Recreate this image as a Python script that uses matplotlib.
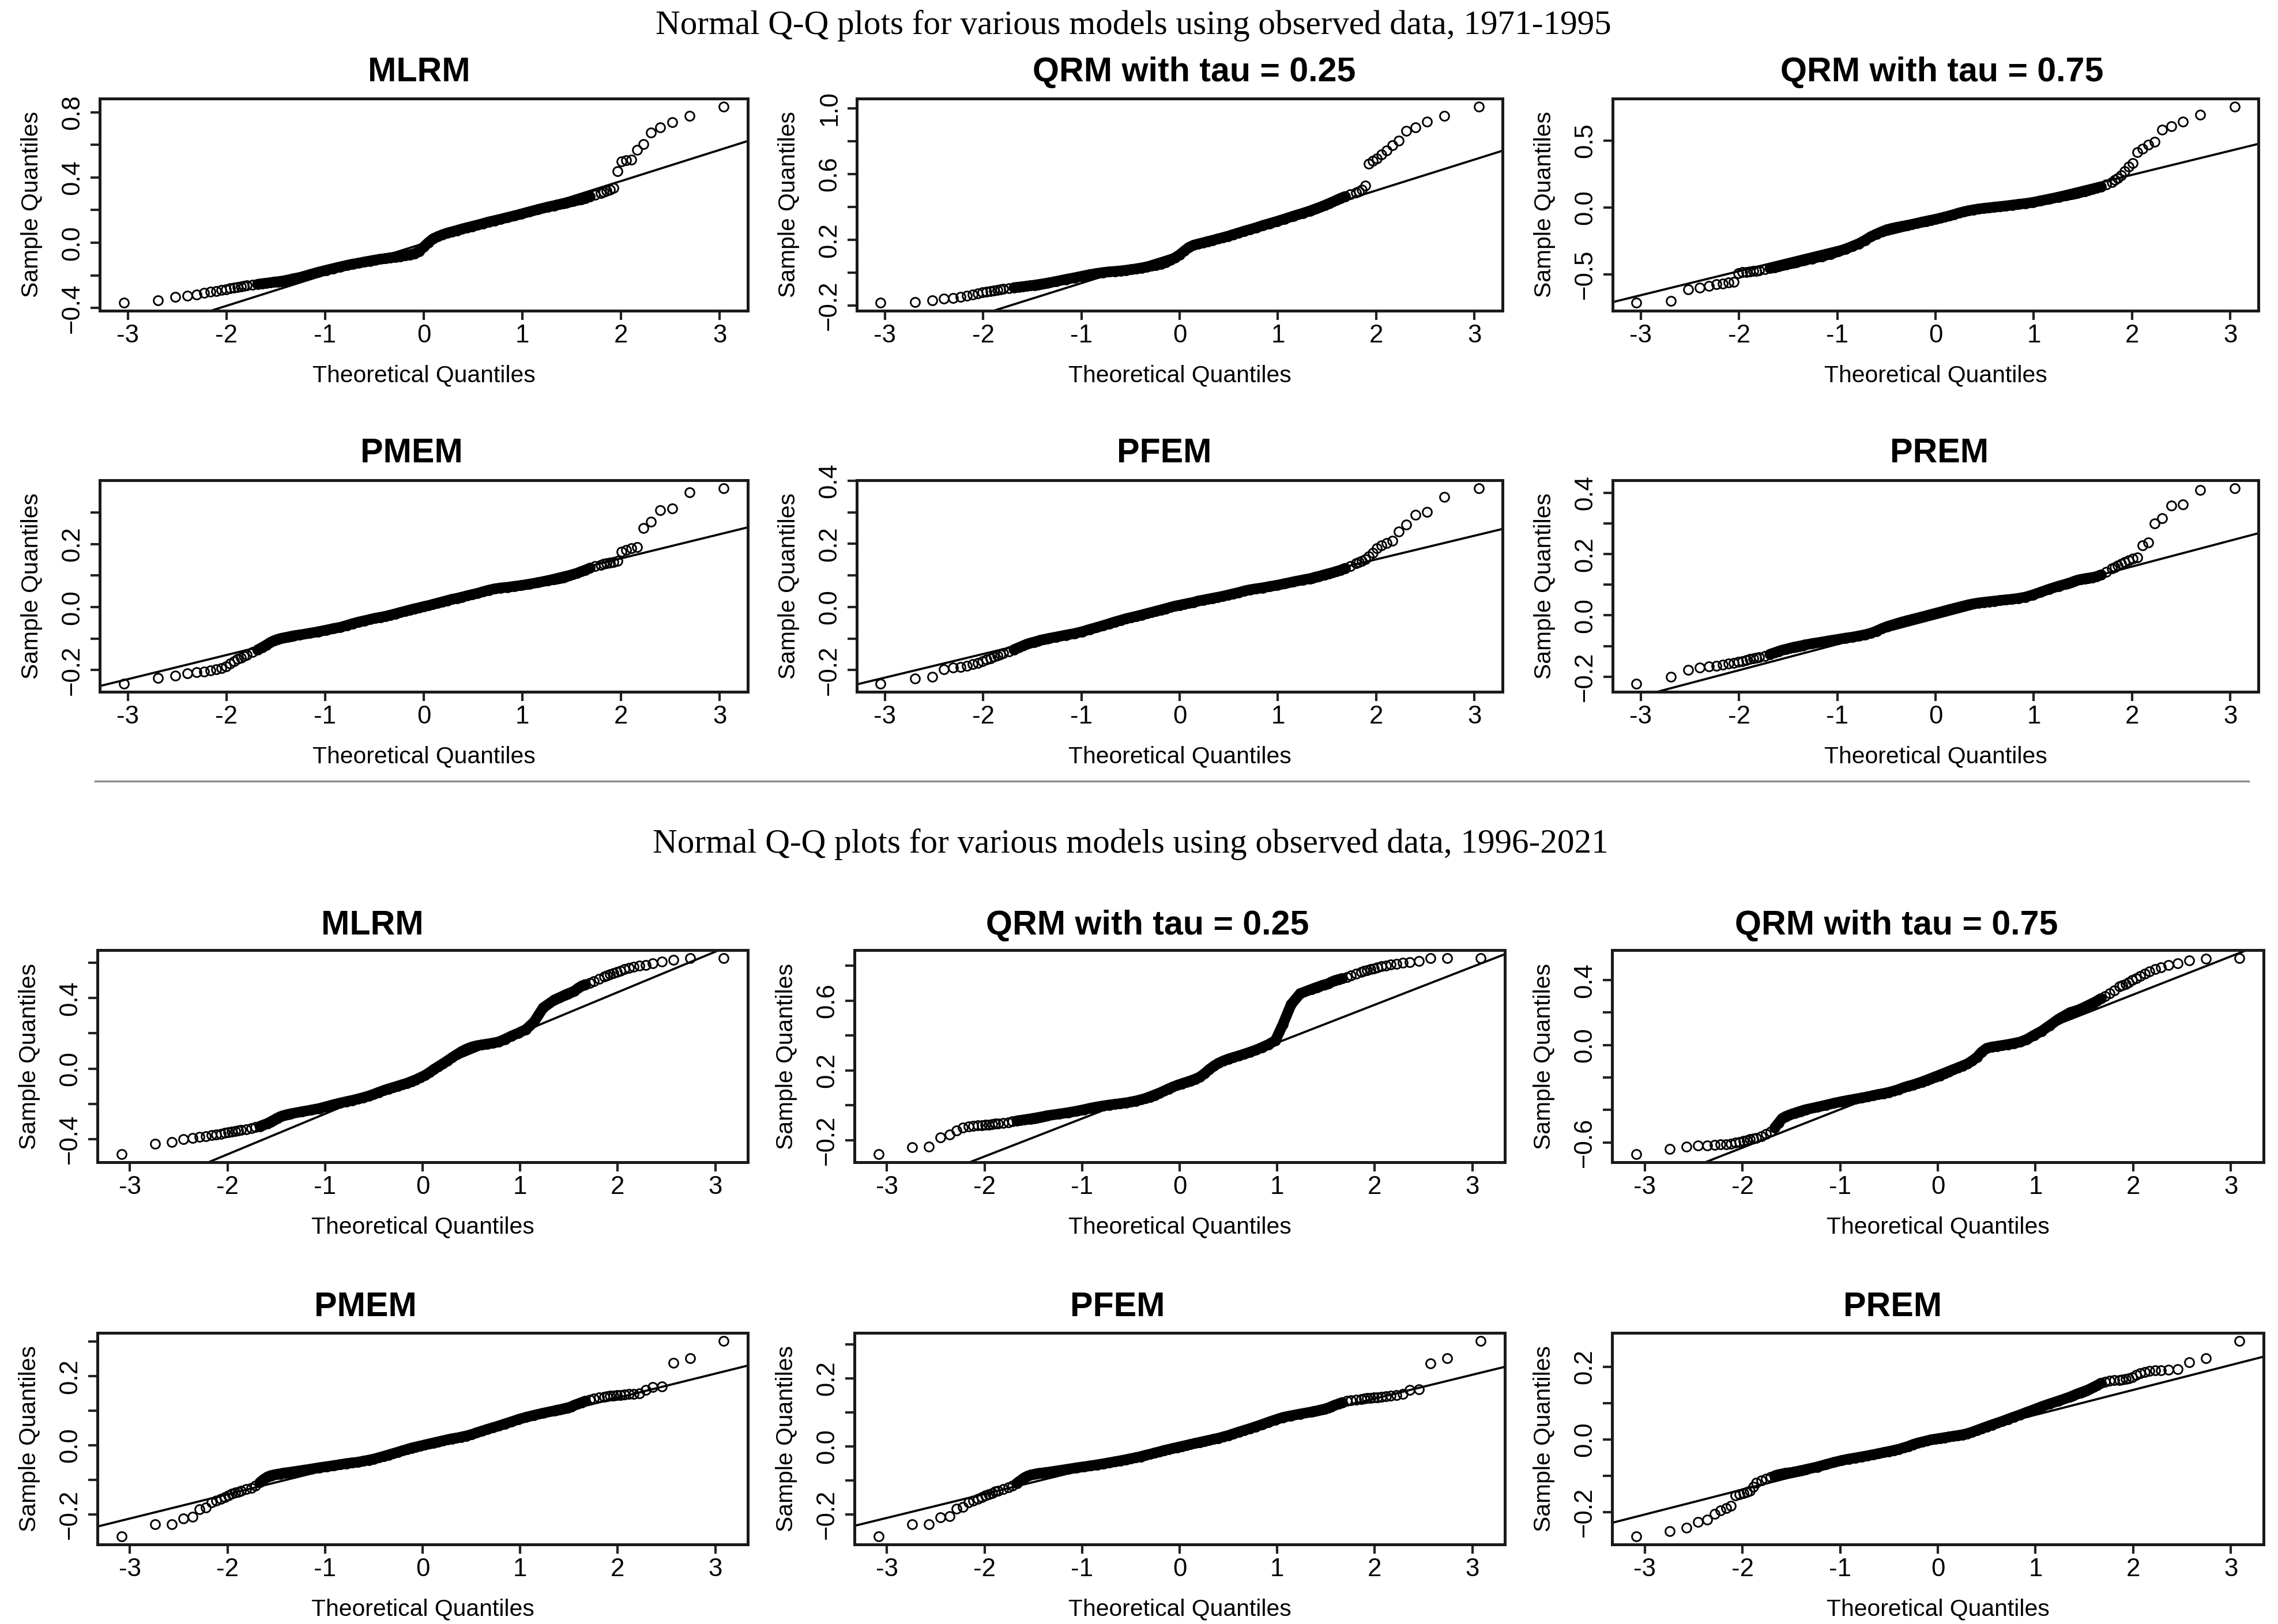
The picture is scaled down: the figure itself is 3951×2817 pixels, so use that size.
import matplotlib
matplotlib.use("Agg")
import matplotlib.pyplot as plt
from matplotlib.lines import Line2D
import numpy as np
from statistics import NormalDist

plt.rcParams["font.family"] = ["Liberation Sans", "DejaVu Sans"]

# ---------------- data ----------------
models = ["MLRM", "QRM with tau = 0.25", "QRM with tau = 0.75", "PMEM", "PFEM", "PREM"]
period_titles = ["Normal Q-Q plots for various models using observed data, 1971-1995",
                 "Normal Q-Q plots for various models using observed data, 1996-2021"]
n_obs = [425, 494]

# ranks (of the sorted residuals) at which the sample quantiles were read
ranks_7195 = [*range(1, 17), *range(18, 41, 2), *range(45, 382, 8), *range(386, 409, 2), *range(410, 426)]
ranks_9621 = [*range(1, 17), *range(18, 45, 2), *range(54, 442, 9), *range(451, 478, 2), *range(479, 495)]

# sample quantiles 1971-1995
mlrm_7195 = [-0.368, -0.354, -0.332, -0.325, -0.316, -0.307, -0.300, -0.295, -0.290, -0.286, -0.280, -0.276, -0.272, -0.268, -0.265, -0.262,
             -0.257, -0.254, -0.250, -0.247, -0.244, -0.240, -0.238, -0.235, -0.232, -0.228, -0.224, -0.220,
             -0.212, -0.195, -0.180, -0.168, -0.157, -0.147, -0.138, -0.130, -0.124, -0.117, -0.111, -0.105, -0.100, -0.096, -0.091,
             -0.087, -0.083, -0.078, -0.073, -0.066, -0.052, -0.025, 0.002, 0.025, 0.038, 0.050, 0.060, 0.068, 0.076, 0.085,
             0.093, 0.101, 0.109, 0.118, 0.128, 0.136, 0.145, 0.155, 0.165, 0.177, 0.190, 0.204, 0.219,
             0.228, 0.232, 0.236, 0.241, 0.245, 0.250, 0.255, 0.261, 0.267, 0.274, 0.283, 0.295,
             0.305, 0.312, 0.318, 0.325, 0.335, 0.440, 0.500, 0.505, 0.510, 0.570, 0.605, 0.675, 0.705, 0.738, 0.778, 0.835]
qrm25_7195 = [-0.183, -0.179, -0.166, -0.158, -0.153, -0.145, -0.140, -0.133, -0.126, -0.120, -0.116, -0.112, -0.108, -0.104, -0.101, -0.098,
              -0.094, -0.090, -0.087, -0.084, -0.081, -0.078, -0.075, -0.072, -0.069, -0.066, -0.063, -0.060,
              -0.052, -0.040, -0.030, -0.020, -0.011, -0.004, 0.002, 0.006, 0.009, 0.012, 0.016, 0.020, 0.025, 0.030, 0.036,
              0.042, 0.048, 0.055, 0.065, 0.077, 0.092, 0.110, 0.133, 0.155, 0.168, 0.176, 0.183, 0.191, 0.198, 0.206,
              0.214, 0.223, 0.233, 0.243, 0.254, 0.264, 0.275, 0.288, 0.300, 0.313, 0.328, 0.345, 0.363,
              0.376, 0.382, 0.389, 0.396, 0.403, 0.412, 0.421, 0.431, 0.442, 0.454, 0.465, 0.477,
              0.488, 0.495, 0.505, 0.530, 0.665, 0.680, 0.695, 0.720, 0.745, 0.775, 0.805, 0.865, 0.885, 0.920, 0.955, 1.012]
qrm75_7195 = [-0.713, -0.700, -0.614, -0.600, -0.585, -0.575, -0.568, -0.562, -0.555, -0.490, -0.485, -0.481, -0.478, -0.476, -0.473, -0.470,
              -0.462, -0.455, -0.447, -0.440, -0.433, -0.426, -0.420, -0.414, -0.408, -0.402, -0.397, -0.392,
              -0.382, -0.365, -0.348, -0.330, -0.310, -0.290, -0.270, -0.245, -0.218, -0.198, -0.180, -0.165, -0.155, -0.147, -0.140,
              -0.133, -0.126, -0.118, -0.110, -0.102, -0.095, -0.088, -0.080, -0.071, -0.062, -0.052, -0.041, -0.032, -0.024, -0.017,
              -0.011, -0.006, -0.002, 0.003, 0.007, 0.012, 0.018, 0.024, 0.030, 0.038, 0.050, 0.063, 0.078,
              0.088, 0.093, 0.098, 0.103, 0.108, 0.114, 0.120, 0.128, 0.136, 0.145, 0.155, 0.170,
              0.190, 0.205, 0.220, 0.240, 0.270, 0.305, 0.330, 0.415, 0.440, 0.470, 0.490, 0.580, 0.605, 0.640, 0.695, 0.755]
pmem_7195 = [-0.244, -0.225, -0.218, -0.210, -0.207, -0.204, -0.201, -0.197, -0.193, -0.188, -0.180, -0.172, -0.165, -0.160, -0.155, -0.151,
             -0.143, -0.136, -0.128, -0.120, -0.112, -0.106, -0.102, -0.099, -0.097, -0.095, -0.093, -0.091,
             -0.088, -0.083, -0.078, -0.073, -0.068, -0.064, -0.058, -0.052, -0.047, -0.043, -0.039, -0.035, -0.032, -0.029, -0.025,
             -0.021, -0.017, -0.013, -0.009, -0.005, -0.002, 0.002, 0.005, 0.009, 0.013, 0.017, 0.021, 0.025, 0.028, 0.032,
             0.036, 0.040, 0.044, 0.049, 0.054, 0.058, 0.061, 0.063, 0.066, 0.069, 0.073, 0.078, 0.084,
             0.088, 0.090, 0.092, 0.094, 0.097, 0.100, 0.104, 0.108, 0.113, 0.118, 0.124, 0.130,
             0.134, 0.137, 0.139, 0.141, 0.143, 0.146, 0.176, 0.182, 0.186, 0.190, 0.251, 0.272, 0.308, 0.314, 0.365, 0.378]
pfem_7195 = [-0.244, -0.227, -0.221, -0.197, -0.193, -0.190, -0.187, -0.181, -0.177, -0.172, -0.167, -0.163, -0.158, -0.154, -0.150, -0.147,
             -0.141, -0.135, -0.129, -0.123, -0.118, -0.114, -0.111, -0.108, -0.105, -0.103, -0.101, -0.099,
             -0.095, -0.089, -0.084, -0.078, -0.071, -0.065, -0.059, -0.053, -0.047, -0.042, -0.037, -0.033, -0.029, -0.025, -0.021,
             -0.017, -0.013, -0.009, -0.005, -0.001, 0.003, 0.006, 0.009, 0.012, 0.015, 0.019, 0.022, 0.025, 0.028, 0.031,
             0.034, 0.038, 0.042, 0.046, 0.051, 0.055, 0.058, 0.061, 0.065, 0.069, 0.074, 0.080, 0.086,
             0.090, 0.092, 0.095, 0.097, 0.100, 0.103, 0.106, 0.109, 0.113, 0.117, 0.123, 0.130,
             0.139, 0.142, 0.146, 0.152, 0.160, 0.172, 0.187, 0.196, 0.203, 0.210, 0.240, 0.261, 0.292, 0.302, 0.349, 0.377]
prem_7195 = [-0.224, -0.201, -0.178, -0.171, -0.167, -0.164, -0.161, -0.158, -0.155, -0.152, -0.149, -0.146, -0.143, -0.141, -0.139, -0.136,
             -0.132, -0.127, -0.122, -0.117, -0.113, -0.110, -0.107, -0.104, -0.102, -0.100, -0.098, -0.096,
             -0.092, -0.087, -0.082, -0.078, -0.074, -0.071, -0.067, -0.063, -0.058, -0.051, -0.043, -0.036, -0.031, -0.026, -0.021,
             -0.017, -0.013, -0.009, -0.005, -0.001, 0.003, 0.007, 0.011, 0.015, 0.019, 0.023, 0.027, 0.031, 0.035, 0.038,
             0.041, 0.043, 0.045, 0.047, 0.049, 0.051, 0.053, 0.056, 0.060, 0.067, 0.076, 0.086, 0.096,
             0.102, 0.105, 0.108, 0.112, 0.115, 0.118, 0.120, 0.122, 0.124, 0.127, 0.133, 0.142,
             0.153, 0.157, 0.162, 0.168, 0.175, 0.180, 0.185, 0.190, 0.228, 0.238, 0.300, 0.318, 0.358, 0.363, 0.409, 0.416]

# sample quantiles 1996-2021
mlrm_9621 = [-0.485, -0.424, -0.414, -0.399, -0.392, -0.386, -0.381, -0.377, -0.372, -0.368, -0.364, -0.360, -0.357, -0.353, -0.350, -0.347,
             -0.342, -0.337, -0.332, -0.326, -0.318, -0.310, -0.300, -0.290, -0.280, -0.272, -0.266, -0.262, -0.258, -0.255,
             -0.243, -0.234, -0.225, -0.214, -0.203, -0.194, -0.186, -0.179, -0.171, -0.163, -0.154, -0.144, -0.133, -0.123, -0.114,
             -0.106, -0.098, -0.090, -0.082, -0.072, -0.062, -0.050, -0.038, -0.022, -0.004, 0.012, 0.028, 0.045, 0.063, 0.080,
             0.097, 0.111, 0.122, 0.130, 0.135, 0.140, 0.145, 0.152, 0.167, 0.185, 0.202, 0.222, 0.265, 0.345,
             0.390, 0.396, 0.403, 0.410, 0.418, 0.425, 0.432, 0.440, 0.455, 0.468, 0.477, 0.485, 0.495, 0.508,
             0.522, 0.527, 0.533, 0.540, 0.547, 0.555, 0.563, 0.571, 0.577, 0.582, 0.588, 0.597, 0.607, 0.617, 0.625, 0.627]
qrm25_9621 = [-0.280, -0.238, -0.236, -0.182, -0.165, -0.145, -0.128, -0.121, -0.117, -0.115, -0.113, -0.111, -0.109, -0.107, -0.105, -0.103,
              -0.100, -0.096, -0.092, -0.088, -0.085, -0.082, -0.079, -0.076, -0.073, -0.070, -0.067, -0.064, -0.061, -0.058,
              -0.049, -0.041, -0.033, -0.024, -0.015, -0.008, -0.002, 0.003, 0.007, 0.011, 0.015, 0.020, 0.026, 0.033, 0.040,
              0.048, 0.058, 0.070, 0.083, 0.095, 0.106, 0.116, 0.125, 0.133, 0.141, 0.150, 0.163, 0.182, 0.205, 0.225,
              0.242, 0.255, 0.266, 0.275, 0.284, 0.294, 0.305, 0.317, 0.332, 0.349, 0.372, 0.465, 0.578, 0.640,
              0.665, 0.670, 0.676, 0.681, 0.687, 0.692, 0.697, 0.707, 0.715, 0.721, 0.727, 0.735, 0.745, 0.755,
              0.765, 0.770, 0.775, 0.780, 0.785, 0.790, 0.795, 0.800, 0.805, 0.810, 0.815, 0.820, 0.825, 0.842, 0.843, 0.844]
qrm75_9621 = [-0.674, -0.639, -0.625, -0.620, -0.618, -0.616, -0.614, -0.612, -0.608, -0.603, -0.598, -0.592, -0.587, -0.582, -0.577, -0.572,
              -0.562, -0.548, -0.535, -0.510, -0.480, -0.452, -0.440, -0.432, -0.425, -0.419, -0.413, -0.408, -0.403, -0.398,
              -0.383, -0.370, -0.358, -0.348, -0.340, -0.333, -0.326, -0.319, -0.311, -0.304, -0.298, -0.291, -0.283, -0.273, -0.262,
              -0.253, -0.245, -0.236, -0.227, -0.218, -0.208, -0.198, -0.188, -0.176, -0.163, -0.151, -0.140, -0.128, -0.116, -0.098,
              -0.076, -0.043, -0.020, -0.012, -0.007, -0.002, 0.004, 0.011, 0.019, 0.035, 0.060, 0.085, 0.120, 0.160,
              0.200, 0.205, 0.210, 0.215, 0.223, 0.231, 0.240, 0.250, 0.260, 0.272, 0.287, 0.302, 0.318, 0.338,
              0.360, 0.368, 0.376, 0.388, 0.400, 0.413, 0.427, 0.440, 0.455, 0.468, 0.480, 0.492, 0.505, 0.523, 0.533, 0.537]
pmem_9621 = [-0.265, -0.230, -0.229, -0.212, -0.208, -0.185, -0.181, -0.165, -0.160, -0.155, -0.150, -0.145, -0.141, -0.138, -0.135, -0.132,
             -0.128, -0.124, -0.118, -0.108, -0.099, -0.092, -0.088, -0.086, -0.084, -0.083, -0.081, -0.080, -0.079, -0.078,
             -0.073, -0.069, -0.065, -0.062, -0.059, -0.056, -0.053, -0.051, -0.049, -0.046, -0.043, -0.040, -0.036, -0.032, -0.028,
             -0.024, -0.020, -0.016, -0.012, -0.008, -0.005, -0.002, 0.001, 0.004, 0.007, 0.010, 0.013, 0.016, 0.019, 0.021,
             0.024, 0.027, 0.031, 0.036, 0.041, 0.046, 0.051, 0.056, 0.062, 0.068, 0.075, 0.081, 0.087, 0.093,
             0.100, 0.102, 0.103, 0.105, 0.107, 0.109, 0.112, 0.116, 0.120, 0.124, 0.128, 0.132, 0.135, 0.138,
             0.141, 0.142, 0.143, 0.144, 0.145, 0.146, 0.147, 0.148, 0.149, 0.151, 0.160, 0.168, 0.170, 0.238, 0.252, 0.303]
pfem_9621 = [-0.265, -0.229, -0.228, -0.208, -0.205, -0.183, -0.178, -0.165, -0.160, -0.155, -0.150, -0.145, -0.141, -0.137, -0.133, -0.130,
             -0.126, -0.121, -0.116, -0.108, -0.100, -0.092, -0.087, -0.084, -0.082, -0.080, -0.079, -0.078, -0.077, -0.076,
             -0.071, -0.067, -0.063, -0.060, -0.057, -0.054, -0.051, -0.048, -0.045, -0.042, -0.039, -0.036, -0.033, -0.030, -0.026,
             -0.023, -0.019, -0.016, -0.012, -0.009, -0.006, -0.003, 0.000, 0.003, 0.006, 0.009, 0.012, 0.015, 0.018, 0.021,
             0.024, 0.028, 0.032, 0.037, 0.042, 0.047, 0.052, 0.058, 0.064, 0.071, 0.078, 0.085, 0.090, 0.095,
             0.101, 0.103, 0.104, 0.106, 0.108, 0.110, 0.113, 0.117, 0.121, 0.125, 0.129, 0.133, 0.135, 0.137,
             0.139, 0.140, 0.141, 0.142, 0.143, 0.144, 0.145, 0.147, 0.149, 0.151, 0.153, 0.165, 0.168, 0.243, 0.258, 0.310]
prem_9621 = [-0.268, -0.253, -0.244, -0.228, -0.221, -0.206, -0.196, -0.190, -0.183, -0.155, -0.151, -0.148, -0.145, -0.142, -0.130, -0.120,
             -0.113, -0.108, -0.104, -0.100, -0.097, -0.095, -0.093, -0.092, -0.091, -0.089, -0.088, -0.086, -0.085, -0.083,
             -0.076, -0.069, -0.063, -0.058, -0.054, -0.051, -0.048, -0.045, -0.042, -0.039, -0.036, -0.033, -0.030, -0.027, -0.023,
             -0.019, -0.014, -0.010, -0.007, -0.004, -0.001, 0.001, 0.003, 0.005, 0.007, 0.009, 0.011, 0.013, 0.016, 0.020,
             0.025, 0.030, 0.035, 0.040, 0.045, 0.050, 0.056, 0.062, 0.068, 0.075, 0.082, 0.090, 0.098, 0.106,
             0.117, 0.120, 0.123, 0.126, 0.129, 0.132, 0.135, 0.139, 0.144, 0.149, 0.155, 0.159, 0.161, 0.163,
             0.164, 0.165, 0.166, 0.168, 0.172, 0.178, 0.182, 0.186, 0.189, 0.190, 0.191, 0.192, 0.194, 0.212, 0.224, 0.272]

# qq reference lines (intercept, slope)
qqline_7195 = [(-0.004, 0.191), (0.125, 0.188), (-0.116, 0.180), (0.0013, 0.0767), (0.001, 0.075), (-0.0098, 0.0847)]
qqline_9621 = [(-0.026, 0.2294), (0.142, 0.217), (-0.161, 0.236), (-0.0025, 0.070), (0.0, 0.070), (-0.001, 0.0687)]

x_ticks = [-3, -2, -1, 0, 1, 2, 3]
x_tick_labels = ["-3", "-2", "-1", "0", "1", "2", "3"]
y_ticks_7195 = [[-0.4, -0.2, 0.0, 0.2, 0.4, 0.6, 0.8], [-0.2, 0.0, 0.2, 0.4, 0.6, 0.8, 1.0], [-0.5, 0.0, 0.5],
                [-0.2, -0.1, 0.0, 0.1, 0.2, 0.3], [-0.2, -0.1, 0.0, 0.1, 0.2, 0.3, 0.4], [-0.2, -0.1, 0.0, 0.1, 0.2, 0.3, 0.4]]
y_labels_7195 = [["\u22120.4", "", "0.0", "", "0.4", "", "0.8"], ["\u22120.2", "", "0.2", "", "0.6", "", "1.0"],
                 ["\u22120.5", "0.0", "0.5"], ["\u22120.2", "", "0.0", "", "0.2", ""],
                 ["\u22120.2", "", "0.0", "", "0.2", "", "0.4"], ["\u22120.2", "", "0.0", "", "0.2", "", "0.4"]]
y_ticks_9621 = [[-0.4, -0.2, 0.0, 0.2, 0.4, 0.6], [-0.2, 0.0, 0.2, 0.4, 0.6, 0.8], [-0.6, -0.4, -0.2, 0.0, 0.2, 0.4],
                [-0.2, -0.1, 0.0, 0.1, 0.2, 0.3], [-0.2, -0.1, 0.0, 0.1, 0.2, 0.3], [-0.2, -0.1, 0.0, 0.1, 0.2]]
y_labels_9621 = [["\u22120.4", "", "0.0", "", "0.4", ""], ["\u22120.2", "", "0.2", "", "0.6", ""],
                 ["\u22120.6", "", "", "0.0", "", "0.4"], ["\u22120.2", "", "0.0", "", "0.2", ""],
                 ["\u22120.2", "", "0.0", "", "0.2", ""], ["\u22120.2", "", "0.0", "", "0.2"]]

ranks = [ranks_7195, ranks_9621]
samples = [[mlrm_7195, qrm25_7195, qrm75_7195, pmem_7195, pfem_7195, prem_7195],
           [mlrm_9621, qrm25_9621, qrm75_9621, pmem_9621, pfem_9621, prem_9621]]
qqlines = [qqline_7195, qqline_9621]
y_ticks = [y_ticks_7195, y_ticks_9621]
y_labels = [y_labels_7195, y_labels_9621]

# ---------------- layout (pixels of the 3951x2817 canvas) ----------------
W, H = 3951, 2817
row_tb = [(171, 539), (833, 1200), (1648, 2016), (2312, 2679)]
cols = [[(173, 1297), (1486, 2606), (2797, 3917)],
        [(169, 1297), (1482, 2610), (2796, 3926)]]
title_x = [[727, 2071, 3368], [714, 2019, 3364], [646, 1990, 3289], [634, 1938, 3283]]
title_base = [141, 802, 1621, 2283]
main_pos = [(1966, 44), (1961, 1465)]

fig = plt.figure(figsize=(W / 300, H / 300), dpi=300)
fig.patch.set_facecolor("white")

nd = NormalDist()
for p in range(2):
    n = n_obs[p]
    theo = np.array([nd.inv_cdf((r - 0.5) / n) for r in ranks[p]])
    for m in range(6):
        row = 2 * p + m // 3
        col = m % 3
        t, b = row_tb[row]
        l, r = cols[p][col]
        ax = fig.add_axes([l / W, 1 - b / H, (r - l) / W, (b - t) / H])
        y = np.array(samples[p][m])
        assert len(y) == len(theo), (p, m, len(y), len(theo))

        # heavily overplotted middle part
        dense = np.abs(theo) < 1.7
        ax.plot(theo[dense], y[dense], color="black", lw=4.4, zorder=2,
                solid_capstyle="round", solid_joinstyle="round")
        ax.plot(theo, y, linestyle="none", marker="o", ms=3.8, mfc="none",
                mec="black", mew=0.7, zorder=3)
        icpt, slope = qqlines[p][m]
        ax.axline((0, icpt), slope=slope, color="black", lw=0.9, zorder=1)
        ax.margins(x=0.04, y=0.04)

        ax.set_xticks(x_ticks, x_tick_labels)
        ax.set_yticks(y_ticks[p][m], y_labels[p][m])
        ax.tick_params(direction="out", length=3.8, width=1.0, labelsize=10.5, color="#222222")
        ax.tick_params(axis="x", pad=1.8)
        ax.tick_params(axis="y", pad=2.6, labelrotation=90)
        for lab in ax.get_yticklabels():
            lab.set_va("center")
        for s in ax.spines.values():
            s.set_linewidth(1.2)
            s.set_color("#1a1a1a")

        ax.set_xlabel("Theoretical Quantiles", fontsize=9.8)
        ax.xaxis.set_label_coords(0.5, -112 / (b - t))
        ax.xaxis.label.set_va("center")
        ax.set_ylabel("Sample Quantiles", fontsize=9.8)
        ax.yaxis.set_label_coords(-118 / (r - l), 0.5)
        ax.yaxis.label.set_va("center")

        fig.text(title_x[row][col] / W, 1 - title_base[row] / H, models[m],
                 fontsize=14.2, fontweight="bold", ha="center", va="baseline")

for txt, (xc, yc) in zip(period_titles, main_pos):
    fig.text(xc / W, 1 - yc / H, txt, family=["Liberation Serif", "DejaVu Serif"],
             fontsize=14.2, ha="center", va="center")

fig.add_artist(Line2D([165 / W, 3900 / W], [1 - 1355 / H, 1 - 1355 / H],
                      color="#8c8c8c", lw=0.8))

fig.savefig("out.png", dpi=300)
